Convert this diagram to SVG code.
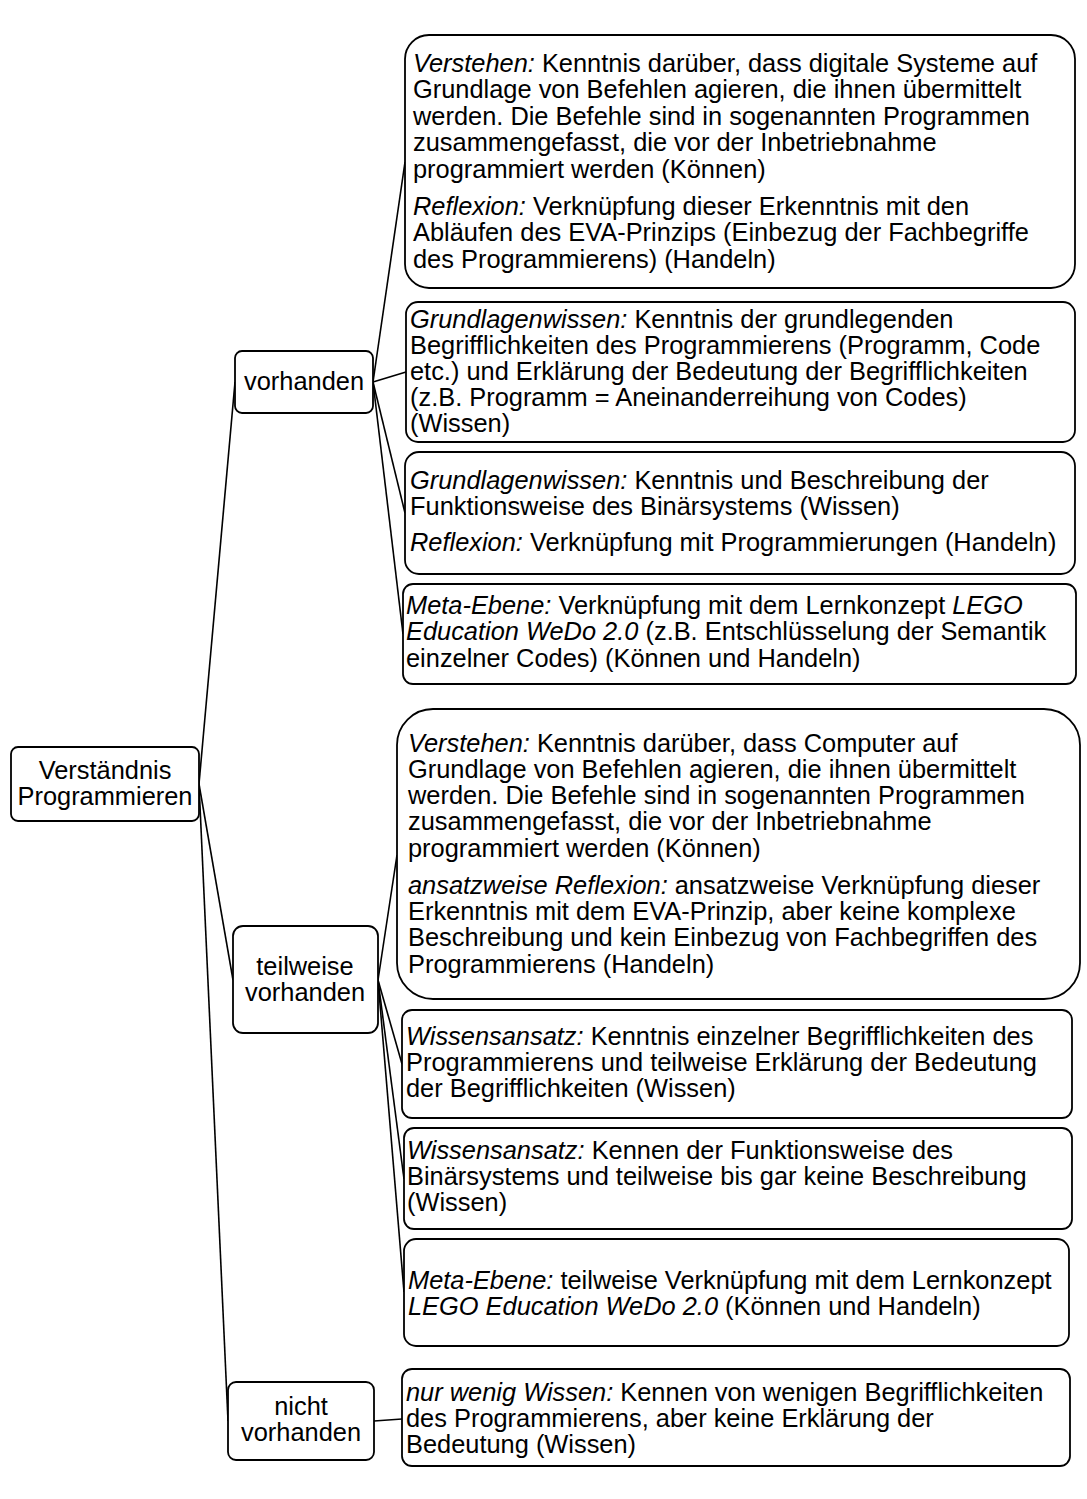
<svg xmlns="http://www.w3.org/2000/svg" width="1087" height="1499" viewBox="0 0 1087 1499">
  <style>
    .box { fill: #ffffff; stroke: #000000; stroke-width: 1.8; }
    .edge { fill: none; stroke: #000000; stroke-width: 1.6; }
    text { font-family: "Liberation Sans", Arial, sans-serif; font-size: 25.4px; fill: #000000; }
    .c { text-anchor: middle; }
    .i { font-style: italic; }
  </style>
  <rect width="1087" height="1499" fill="#ffffff"/>

  <!-- connectors -->
  <g id="connectors">
    <line class="edge" x1="199" y1="784" x2="235" y2="382"/>
    <line class="edge" x1="199" y1="784" x2="233" y2="980"/>
    <line class="edge" x1="199" y1="784" x2="228" y2="1421"/>
    <line class="edge" x1="373" y1="382" x2="405" y2="162"/>
    <line class="edge" x1="373" y1="382" x2="406" y2="372"/>
    <line class="edge" x1="373" y1="382" x2="405" y2="513"/>
    <line class="edge" x1="373" y1="382" x2="403" y2="634"/>
    <line class="edge" x1="378" y1="980" x2="397" y2="855"/>
    <line class="edge" x1="378" y1="980" x2="402" y2="1064"/>
    <line class="edge" x1="378" y1="980" x2="404" y2="1179"/>
    <line class="edge" x1="378" y1="980" x2="404" y2="1292"/>
    <line class="edge" x1="374" y1="1421" x2="402" y2="1419"/>
  </g>

  <!-- root -->
  <g id="root">
    <rect class="box" x="11" y="747" width="188" height="74" rx="7"/>
    <text class="c" x="105" y="779">Verständnis</text>
    <text class="c" x="105" y="805">Programmieren</text>
  </g>

  <!-- level 1 -->
  <g id="vorhanden">
    <rect class="box" x="235" y="351" width="138" height="62" rx="7"/>
    <text class="c" x="304" y="390">vorhanden</text>
  </g>
  <g id="teilweise">
    <rect class="box" x="233" y="926" width="145" height="107" rx="10"/>
    <text class="c" x="305" y="975">teilweise</text>
    <text class="c" x="305" y="1001">vorhanden</text>
  </g>
  <g id="nicht">
    <rect class="box" x="228" y="1382" width="146" height="78" rx="8"/>
    <text class="c" x="301" y="1415">nicht</text>
    <text class="c" x="301" y="1441">vorhanden</text>
  </g>

  <!-- vorhanden details -->
  <g id="a1">
    <rect class="box" x="405" y="35" width="670" height="253" rx="24"/>
    <text x="413" y="72"><tspan class="i">Verstehen:</tspan> Kenntnis darüber, dass digitale Systeme auf</text>
    <text x="413" y="98">Grundlage von Befehlen agieren, die ihnen übermittelt</text>
    <text x="413" y="125">werden. Die Befehle sind in sogenannten Programmen</text>
    <text x="413" y="151">zusammengefasst, die vor der Inbetriebnahme</text>
    <text x="413" y="178">programmiert werden (Können)</text>
    <text x="413" y="215"><tspan class="i">Reflexion:</tspan> Verknüpfung dieser Erkenntnis mit den</text>
    <text x="413" y="241">Abläufen des EVA-Prinzips (Einbezug der Fachbegriffe</text>
    <text x="413" y="268">des Programmierens) (Handeln)</text>
  </g>
  <g id="a2">
    <rect class="box" x="406" y="302" width="669" height="140" rx="12"/>
    <text x="410" y="328"><tspan class="i">Grundlagenwissen:</tspan> Kenntnis der grundlegenden</text>
    <text x="410" y="354">Begrifflichkeiten des Programmierens (Programm, Code</text>
    <text x="410" y="380">etc.) und Erklärung der Bedeutung der Begrifflichkeiten</text>
    <text x="410" y="406">(z.B. Programm = Aneinanderreihung von Codes)</text>
    <text x="410" y="432">(Wissen)</text>
  </g>
  <g id="a3">
    <rect class="box" x="405" y="452" width="670" height="122" rx="14"/>
    <text x="410" y="489"><tspan class="i">Grundlagenwissen:</tspan> Kenntnis und Beschreibung der</text>
    <text x="410" y="515">Funktionsweise des Binärsystems (Wissen)</text>
    <text x="410" y="551"><tspan class="i">Reflexion:</tspan> Verknüpfung mit Programmierungen (Handeln)</text>
  </g>
  <g id="a4">
    <rect class="box" x="403" y="584" width="673" height="100" rx="10"/>
    <text x="406" y="614"><tspan class="i">Meta-Ebene:</tspan> Verknüpfung mit dem Lernkonzept <tspan class="i">LEGO</tspan></text>
    <text x="406" y="640"><tspan class="i">Education WeDo 2.0</tspan> (z.B. Entschlüsselung der Semantik</text>
    <text x="406" y="667">einzelner Codes) (Können und Handeln)</text>
  </g>

  <!-- teilweise details -->
  <g id="b1">
    <rect class="box" x="397" y="709" width="683" height="290" rx="36"/>
    <text x="408" y="752"><tspan class="i">Verstehen:</tspan> Kenntnis darüber, dass Computer auf</text>
    <text x="408" y="778">Grundlage von Befehlen agieren, die ihnen übermittelt</text>
    <text x="408" y="804">werden. Die Befehle sind in sogenannten Programmen</text>
    <text x="408" y="830">zusammengefasst, die vor der Inbetriebnahme</text>
    <text x="408" y="857">programmiert werden (Können)</text>
    <text x="408" y="894"><tspan class="i">ansatzweise Reflexion:</tspan> ansatzweise Verknüpfung dieser</text>
    <text x="408" y="920">Erkenntnis mit dem EVA-Prinzip, aber keine komplexe</text>
    <text x="408" y="946">Beschreibung und kein Einbezug von Fachbegriffen des</text>
    <text x="408" y="973">Programmierens (Handeln)</text>
  </g>
  <g id="b2">
    <rect class="box" x="402" y="1010" width="670" height="108" rx="10"/>
    <text x="406" y="1045"><tspan class="i">Wissensansatz:</tspan> Kenntnis einzelner Begrifflichkeiten des</text>
    <text x="406" y="1071">Programmierens und teilweise Erklärung der Bedeutung</text>
    <text x="406" y="1097">der Begrifflichkeiten (Wissen)</text>
  </g>
  <g id="b3">
    <rect class="box" x="404" y="1128" width="668" height="101" rx="10"/>
    <text x="407" y="1159"><tspan class="i">Wissensansatz:</tspan> Kennen der Funktionsweise des</text>
    <text x="407" y="1185">Binärsystems und teilweise bis gar keine Beschreibung</text>
    <text x="407" y="1211">(Wissen)</text>
  </g>
  <g id="b4">
    <rect class="box" x="404" y="1239" width="665" height="107" rx="12"/>
    <text x="408" y="1289"><tspan class="i">Meta-Ebene:</tspan> teilweise Verknüpfung mit dem Lernkonzept</text>
    <text x="408" y="1315"><tspan class="i">LEGO Education WeDo 2.0</tspan> (Können und Handeln)</text>
  </g>

  <!-- nicht vorhanden details -->
  <g id="c1">
    <rect class="box" x="402" y="1369" width="668" height="97" rx="10"/>
    <text x="406" y="1401"><tspan class="i">nur wenig Wissen:</tspan> Kennen von wenigen Begrifflichkeiten</text>
    <text x="406" y="1427">des Programmierens, aber keine Erklärung der</text>
    <text x="406" y="1453">Bedeutung (Wissen)</text>
  </g>
</svg>
